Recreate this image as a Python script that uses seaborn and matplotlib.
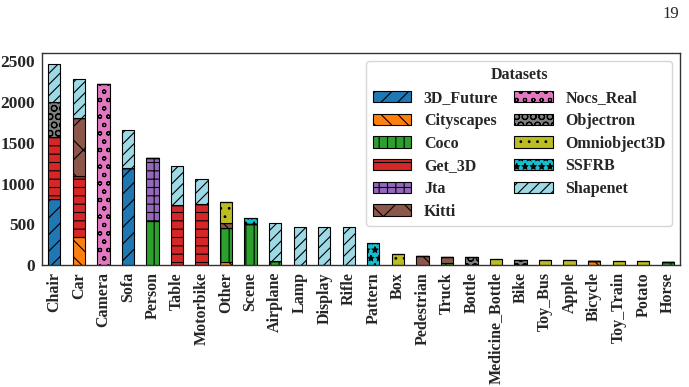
import seaborn as sns
import matplotlib.pyplot as plt
import pandas as pd

sns.set_theme(style="white")
plt.rcParams['font.family'] = ['Liberation Serif', 'DejaVu Serif']
plt.rcParams['font.weight'] = 'bold'
plt.rcParams['hatch.linewidth'] = 0.8

categories = ["Chair", "Car", "Camera", "Sofa", "Person", "Table", "Motorbike", "Other",
              "Scene", "Airplane", "Lamp", "Display", "Rifle", "Pattern", "Box", "Pedestrian",
              "Truck", "Bottle", "Medicine_Bottle", "Bike", "Toy_Bus", "Apple", "Bicycle",
              "Toy_Train", "Potato", "Horse"]

datasets = ["3D_Future", "Cityscapes", "Coco", "Get_3D", "Jta", "Kitti",
            "Nocs_Real", "Objectron", "Omniobject3D", "SSFRB", "Shapenet"]

# counts per (category, dataset)
counts = [
    ("Chair", "3D_Future", 806), ("Chair", "Get_3D", 760), ("Chair", "Objectron", 435), ("Chair", "Shapenet", 460),
    ("Car", "Cityscapes", 340), ("Car", "Get_3D", 757), ("Car", "Kitti", 710), ("Car", "Shapenet", 470),
    ("Camera", "Nocs_Real", 2220),
    ("Sofa", "3D_Future", 1185), ("Sofa", "Shapenet", 475),
    ("Person", "Coco", 540), ("Person", "Jta", 775),
    ("Table", "Get_3D", 740), ("Table", "Shapenet", 470),
    ("Motorbike", "Get_3D", 745), ("Motorbike", "Shapenet", 315),
    ("Other", "Cityscapes", 35), ("Other", "Coco", 420), ("Other", "Kitti", 65), ("Other", "Omniobject3D", 250),
    ("Scene", "Coco", 505), ("Scene", "SSFRB", 70),
    ("Airplane", "Coco", 45), ("Airplane", "Shapenet", 475),
    ("Lamp", "Shapenet", 470),
    ("Display", "Shapenet", 470),
    ("Rifle", "Shapenet", 470),
    ("Pattern", "SSFRB", 275),
    ("Box", "Omniobject3D", 135),
    ("Pedestrian", "Kitti", 115),
    ("Truck", "Coco", 30), ("Truck", "Kitti", 65),
    ("Bottle", "Objectron", 95),
    ("Medicine_Bottle", "Omniobject3D", 75),
    ("Bike", "Objectron", 62),
    ("Toy_Bus", "Omniobject3D", 60),
    ("Apple", "Omniobject3D", 60),
    ("Bicycle", "Cityscapes", 55),
    ("Toy_Train", "Omniobject3D", 50),
    ("Potato", "Omniobject3D", 48),
    ("Horse", "Coco", 42),
]

colors = list(sns.color_palette("tab10")) + ["#9edae5"]
hatches = ['//', '\\\\', '||', '--', '++', 'x', 'oo', 'OO', '..', '**', '///']

df = pd.DataFrame(counts, columns=["Category", "Dataset", "Count"])
table = df.pivot_table(index="Category", columns="Dataset", values="Count", fill_value=0)
table = table.reindex(index=categories, columns=datasets, fill_value=0)

fig = plt.figure(figsize=(6.89, 3.87), dpi=100)
ax = fig.add_axes([0.061, 0.315, 0.926, 0.548])

bottom = [0] * len(categories)
x = list(range(len(categories)))
for i, ds in enumerate(datasets):
    vals = table[ds].values
    ax.bar(x, vals, width=0.5, bottom=bottom, color=colors[i], hatch=hatches[i],
           edgecolor='black', linewidth=0.8, label=ds)
    bottom = [b + v for b, v in zip(bottom, vals)]

ax.set_xlim(-0.5, len(categories) - 0.5)
ax.set_ylim(0, 2600)
ax.set_yticks([0, 500, 1000, 1500, 2000, 2500])
ax.set_xticks(x)
ax.set_xticklabels(categories, rotation=90, fontsize=11.5, fontweight='bold')
ax.tick_params(axis='y', labelsize=12.5, length=3, pad=2)
ax.tick_params(axis='x', length=3, pad=2)
for lab in ax.get_yticklabels():
    lab.set_fontweight('bold')
for s in ax.spines.values():
    s.set_color('#333333')
    s.set_linewidth(1.0)

leg = ax.legend(title="Datasets", ncol=2, loc='upper right', fontsize=11.5,
                title_fontproperties={'weight': 'bold', 'size': 11.5},
                frameon=True, fancybox=True, handlelength=2.4, handletextpad=0.8,
                columnspacing=1.0, labelspacing=0.42)
leg.get_frame().set_edgecolor('#cccccc')

fig.text(0.985, 0.965, "19", ha='right', va='center', fontsize=12, fontweight='normal')

fig.savefig("out.png", dpi=100)
